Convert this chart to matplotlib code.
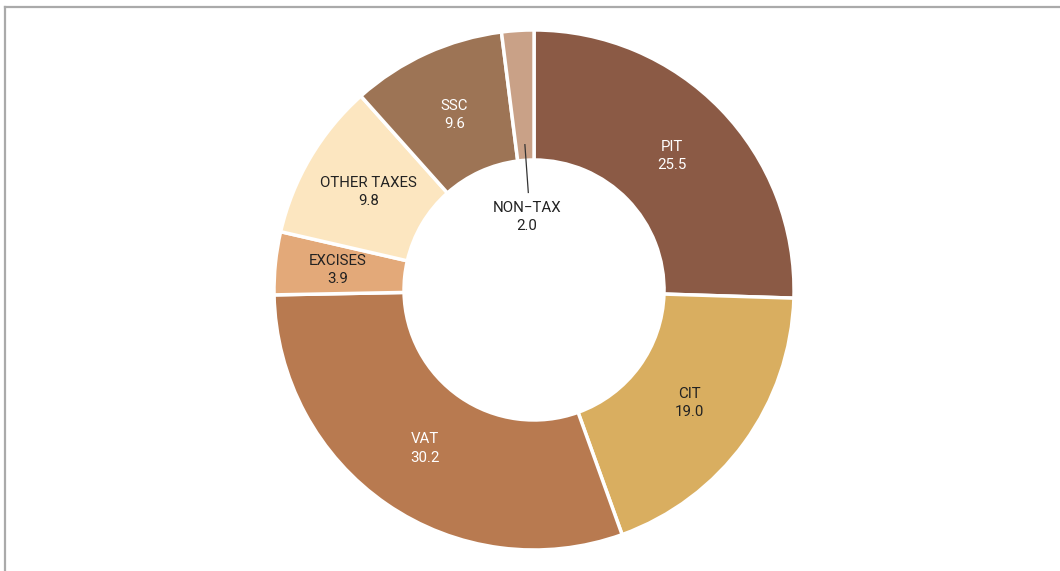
import numpy as np
import matplotlib
matplotlib.use('Agg')
import matplotlib.pyplot as plt

plt.rcParams['font.family'] = ['Roboto', 'DejaVu Sans']

# 세입 구성 (%)
labels = ['PIT', 'CIT', 'VAT', 'EXCISES', 'OTHER TAXES', 'SSC', 'NON\u2212TAX']
values = [25.5, 19.0, 30.2, 3.9, 9.8, 9.6, 2.0]
colors = ['#8B5A45', '#D9AE60', '#B87A50', '#E3A979', '#FCE6C0', '#9D7455', '#C9A187']
text_colors = ['white', '#222222', 'white', '#222222', '#222222', 'white', '#222222']

fig = plt.figure(figsize=(10.6, 5.71), dpi=100)

# 바깥 테두리 (위, 왼쪽)
fig.add_artist(plt.Line2D([0.0047, 0.0047], [0, 0.988], color='#aaaaaa', lw=1.6))
fig.add_artist(plt.Line2D([0.0047, 1.0], [0.988, 0.988], color='#aaaaaa', lw=1.6))

ax = fig.add_axes([0.2585, 0.0368, 0.4906, 0.9107])
wedges, _ = ax.pie(values, colors=colors, startangle=90, counterclock=False,
                   radius=1.0,
                   wedgeprops=dict(width=0.5, edgecolor='white', linewidth=2.5))
ax.set_xlim(-1, 1)
ax.set_ylim(-1, 1)
ax.set_aspect('equal')
ax.axis('off')

label_r = 0.74
for w, lab, val, tc in zip(wedges, labels, values, text_colors):
    ang = np.deg2rad((w.theta1 + w.theta2) / 2)
    txt = f'{lab}\n{val:.1f}'
    if lab.startswith('NON'):
        # 작은 조각은 안쪽 구멍에 라벨 + 지시선
        x0, y0 = 0.56 * np.cos(ang), 0.56 * np.sin(ang)
        ax.plot([x0, -0.022], [y0, 0.375], color='#333333', lw=0.9)
        ax.text(-0.027, 0.28, txt, ha='center', va='center', fontsize=10.8,
                color=tc, linespacing=1.4)
        continue
    x, y = label_r * np.cos(ang), label_r * np.sin(ang)
    if lab == 'EXCISES':
        x -= 0.02
    ax.text(x, y, txt, ha='center', va='center', fontsize=10.8, color=tc,
            linespacing=1.4)

fig.savefig('out.png', dpi=100)
